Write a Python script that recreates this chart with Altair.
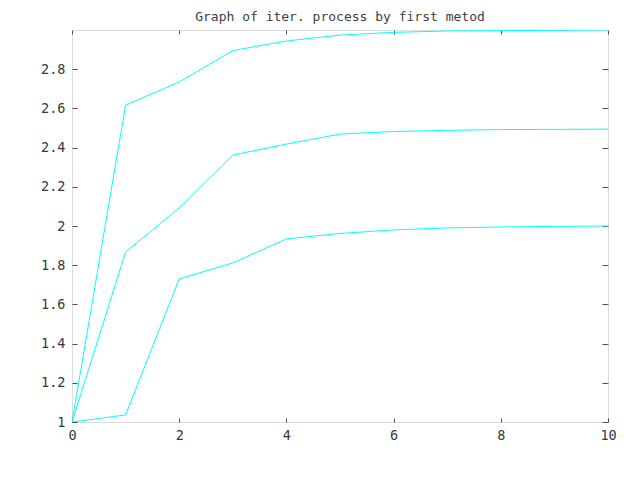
import altair as alt
import pandas as pd

x_vals = [0, 1, 2, 3, 4, 5, 6, 7, 8, 9, 10]
series_top = [1.0, 2.617, 2.735, 2.895, 2.944, 2.974, 2.988, 2.995, 2.997, 2.998, 3.0]
series_mid = [1.0, 1.868, 2.092, 2.362, 2.418, 2.469, 2.482, 2.488, 2.492, 2.493, 2.494]
series_bot = [1.0, 1.036, 1.730, 1.812, 1.934, 1.962, 1.980, 1.990, 1.995, 1.998, 2.0]

x_ticks = [0, 2, 4, 6, 8, 10]
y_ticks = [1.0, 1.2, 1.4, 1.6, 1.8, 2.0, 2.2, 2.4, 2.6, 2.8]
title_text = "Graph of iter. process by first metod"

rows = []
for name, vals in [("top", series_top), ("mid", series_mid), ("bot", series_bot)]:
    for xv, yv in zip(x_vals, vals):
        rows.append({"x": xv, "y": yv, "series": name})
df = pd.DataFrame(rows)

axis_color = "#505050"
font = "DejaVu Sans Mono"
W, H = 536, 392

x_scale = alt.Scale(domain=[0, 10], nice=False, zero=False)
y_scale = alt.Scale(domain=[1, 3], nice=False, zero=False)

common_axis = dict(domain=False, grid=False, tickColor=axis_color, tickWidth=1,
                   labelFont=font, labelFontSize=13.5, labelColor="#383838",
                   labelFlush=False, title=None)

lines = alt.Chart(df).mark_line(color="#00ffff", strokeWidth=1, clip=True).encode(
    x=alt.X("x:Q", scale=x_scale,
            axis=alt.Axis(orient="bottom", values=x_ticks, offset=-4, tickSize=4,
                          labelPadding=6, **common_axis)),
    y=alt.Y("y:Q", scale=y_scale,
            axis=alt.Axis(orient="left", values=y_ticks, offset=-5, tickSize=5,
                          labelPadding=7, format="~g", **common_axis)),
    detail="series:N",
)

mirror = alt.Chart(df).mark_line(opacity=0).encode(
    x=alt.X("x:Q", scale=x_scale,
            axis=alt.Axis(orient="top", values=x_ticks, offset=-4, tickSize=4,
                          labels=False, **common_axis)),
    y=alt.Y("y:Q", scale=y_scale,
            axis=alt.Axis(orient="right", values=y_ticks, offset=-6, tickSize=6,
                          labels=False, **common_axis)),
    detail="series:N",
)

title_mark = alt.Chart(pd.DataFrame({"t": [title_text]})).mark_text(
    font=font, fontSize=13, color="#404040", align="center", baseline="alphabetic"
).encode(text="t:N", x=alt.value(W / 2), y=alt.value(-9.5))

chart = alt.layer(lines, mirror, title_mark).resolve_axis(
    x="independent", y="independent"
).properties(
    width=W,
    height=H,
    autosize=alt.AutoSizeParams(type="none"),
    padding={"left": 64, "top": 22, "right": 20, "bottom": 40},
).configure_view(stroke=axis_color, strokeWidth=1).configure(background="white")

chart.save("out.html", embed_options={"renderer": "svg", "actions": False})
